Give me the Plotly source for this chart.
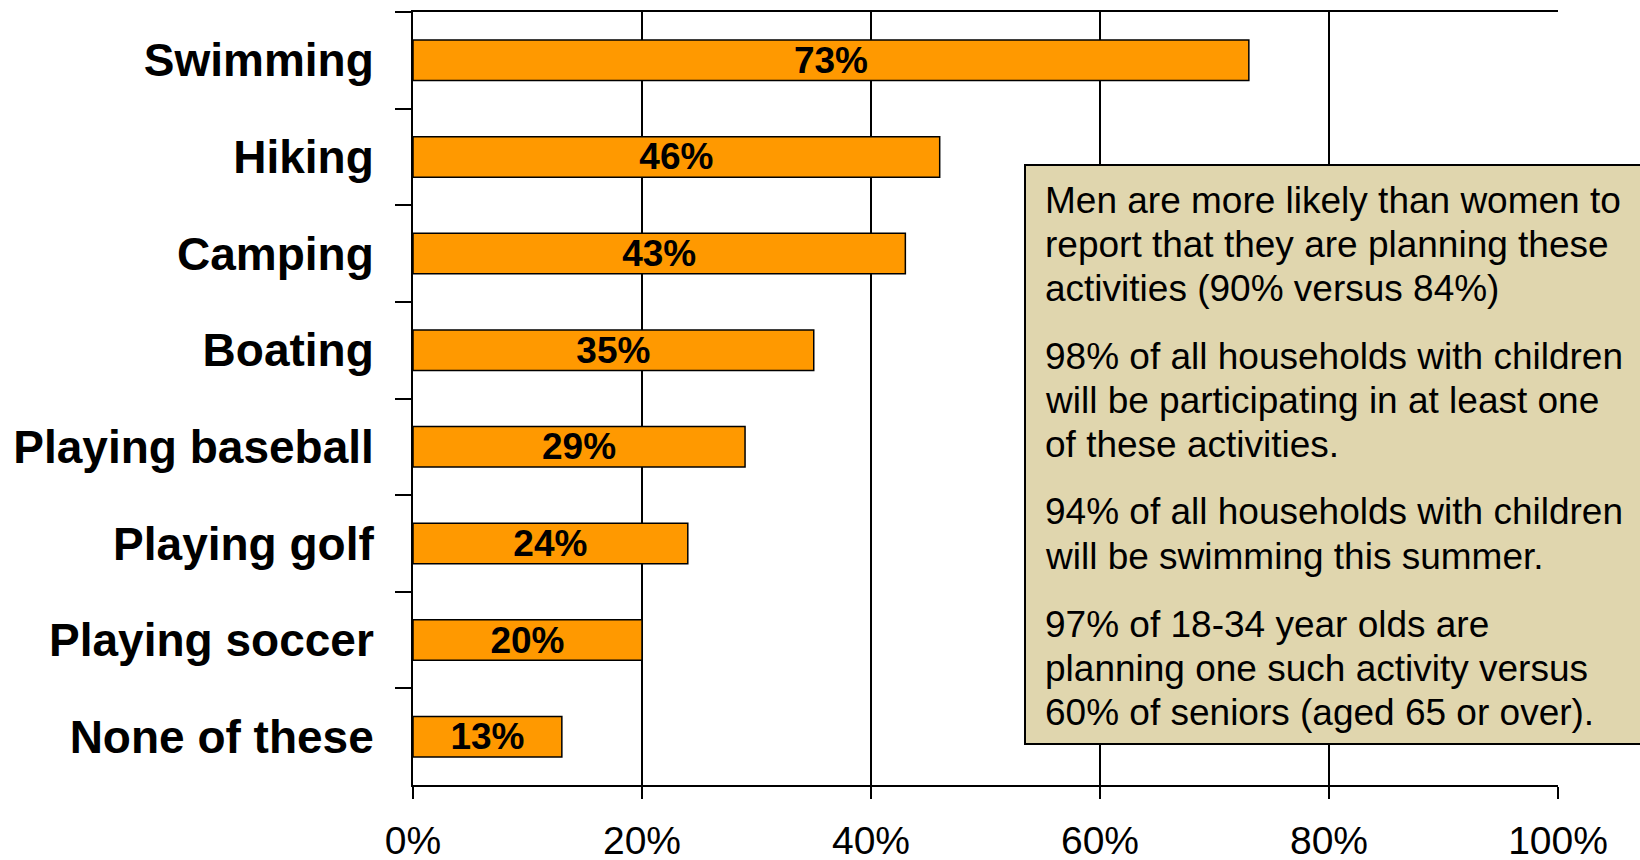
import plotly.graph_objects as go

# Share of respondents planning each summer activity (%)
activities = ["Swimming", "Hiking", "Camping", "Boating", "Playing baseball",
              "Playing golf", "Playing soccer", "None of these"]
shares = [73, 46, 43, 35, 29, 24, 20, 13]

x_ticks = [0, 20, 40, 60, 80, 100]
x_tick_labels = ["0%", "20%", "40%", "60%", "80%", "100%"]

notes = [
    ["Men are more likely than women to",
     "report that they are planning these",
     "activities (90% versus 84%)"],
    ["98% of all households with children",
     "will be participating in at least one",
     "of these activities."],
    ["94% of all households with children",
     "will be swimming this summer."],
    ["97% of 18-34 year olds are",
     "planning one such activity versus",
     "60% of seniors (aged 65 or over)."],
]

FONT = "Arial, Liberation Sans, sans-serif"
W, H = 1640, 860
L, R, T, B = 413, 82, 12, 75
plot_w = W - L - R
plot_h = H - T - B


def px_to_paper_x(px):
    return (px - L) / plot_w


def px_to_paper_y(py):
    return (H - B - py) / plot_h


fig = go.Figure(go.Bar(
    x=shares,
    y=activities,
    orientation="h",
    marker=dict(color="#FF9900", line=dict(color="black", width=1.5)),
    text=[f"{v}%" for v in shares],
    textposition="inside",
    insidetextanchor="middle",
    constraintext="none",
    textfont=dict(family=FONT, size=37, color="black", weight="bold"),
    width=0.42,
))

# Callout panel with notes
box_left, box_top, box_bottom = 1025, 165, 744
fig.add_shape(
    type="rect", xref="paper", yref="paper",
    x0=px_to_paper_x(box_left), x1=px_to_paper_x(W + 20),
    y0=px_to_paper_y(box_bottom), y1=px_to_paper_y(box_top),
    fillcolor="#E0D6AE", line=dict(color="black", width=2), layer="above",
)

line_step, para_step = 44, 68
y = 200
for para in notes:
    for i, line in enumerate(para):
        fig.add_annotation(
            text=line, xref="paper", yref="paper",
            x=px_to_paper_x(1043), y=px_to_paper_y(y),
            xanchor="left", yanchor="middle", showarrow=False,
            font=dict(family=FONT, size=37, color="black"),
        )
        y += line_step if i < len(para) - 1 else para_step

fig.update_layout(
    width=W, height=H,
    margin=dict(l=L, r=R, t=T, b=B, pad=0),
    plot_bgcolor="white", paper_bgcolor="white",
    showlegend=False,
    bargap=0.58,
)
fig.update_xaxes(
    range=[0, 100], tickvals=x_ticks, ticktext=x_tick_labels,
    automargin=False,
    showgrid=True, gridcolor="black", gridwidth=2,
    showline=True, linecolor="black", linewidth=2, mirror=True,
    ticks="outside", ticklen=12, tickwidth=2, tickcolor="black",
    tickfont=dict(family=FONT, size=39, color="black"),
    ticklabelstandoff=8,
    zeroline=False,
)
fig.update_yaxes(
    autorange="reversed", automargin=False,
    showline=True, linecolor="black", linewidth=2,
    ticks="outside", ticklen=16, tickwidth=2, tickcolor="black",
    tickson="boundaries",
    tickfont=dict(family=FONT, size=46, color="black", weight="bold"),
    ticklabelstandoff=28,
    showgrid=False,
)

fig.write_html("out.html")
